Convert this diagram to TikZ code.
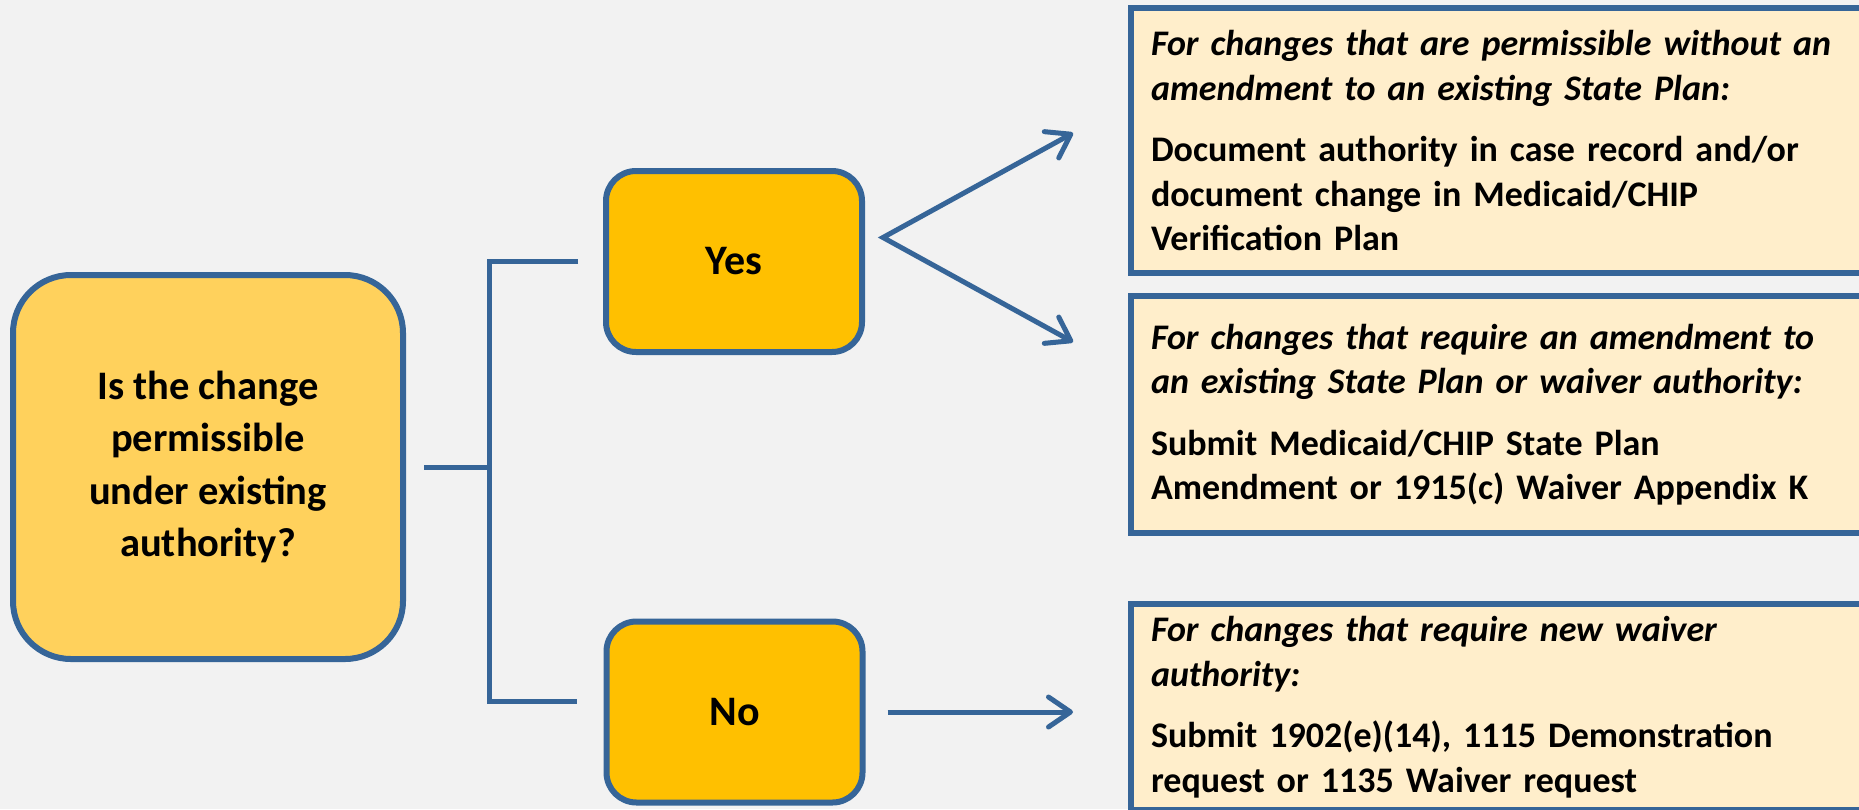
\documentclass[tikz,border=0pt]{standalone}
\usepackage{fontspec}
\setmainfont{Carlito}
\usetikzlibrary{arrows.meta}
\definecolor{bg}{HTML}{F2F2F2}
\definecolor{bl}{HTML}{366598}
\definecolor{mainfill}{HTML}{FFD15C}
\definecolor{ynfill}{HTML}{FFC000}
\definecolor{boxfill}{HTML}{FFEECB}
\begin{document}
\begin{tikzpicture}[x=1pt,y=-1pt,
 decision/.style={draw=bl, line width=6pt, fill=mainfill, rounded corners=58pt,
   minimum width=390pt, minimum height=384pt, align=center, inner sep=0pt,
   font=\fontsize{40.5}{52.5}\selectfont\bfseries},
 answer/.style={draw=bl, line width=6pt, fill=ynfill, rounded corners=30pt,
   minimum width=256pt, minimum height=181pt, inner sep=0pt,
   font=\fontsize{42}{48}\selectfont\bfseries},
 infobox/.style={draw=bl, line width=6pt, fill=boxfill, anchor=west,
   text width=712pt, align=left, inner xsep=20pt, inner ysep=0pt,
   font=\fontsize{36}{44.5}\selectfont\bfseries},
 conn/.style={draw=bl, line width=5pt},
 tipstyle/.style={conn, line join=miter}
]
\fill[bg] (0,0) rectangle (1859,809);
\clip (0,0) rectangle (1859,809);

\node[decision] (q) at (208,467) {Is the change\\permissible\\under existing\\authority?};
\node[answer] (yes) at (734,261.5) {Yes};
\node[answer] (no) at (734.5,712) {No};

\node[infobox, minimum height=265pt] (b1) at (1128,140.5)
 {{\itshape For changes that are permissible without an\\amendment to an existing State Plan:}\\[17pt]
  Document authority in case record and/or\\document change in Medicaid/CHIP\\Verification Plan};
\node[infobox, minimum height=237pt] (b2) at (1128,414.5)
 {{\itshape For changes that require an amendment to\\an existing State Plan or waiver authority:}\\[17pt]
  Submit Medicaid/CHIP State Plan\\Amendment or 1915(c) Waiver Appendix K};
\node[infobox, minimum height=206pt] (b3) at (1128,707)
 {{\itshape For changes that require new waiver\\authority:}\\[17pt]
  Submit 1902(e)(14), 1115 Demonstration\\request or 1135 Waiver request};

\coordinate (apex) at ([xshift=18pt,yshift=24pt]yes.east);
\coordinate (tip1) at ([xshift=-55pt,yshift=7.5pt]b1.west);
\coordinate (tip2) at ([xshift=-55pt,yshift=72.5pt]b2.west);

\draw[conn] ([xshift=18pt]q.east) -- ([xshift=83pt]q.east);
\draw[conn] ([xshift=-25pt]yes.west) -| ([xshift=83pt]q.east) |- ([xshift=-27pt,yshift=11pt]no.west);
\draw[tipstyle, {Straight Barb[length=22pt,width=30pt,round]}-{Straight Barb[length=22pt,width=30pt,round]}]
  (tip1) -- (apex) -- (tip2);
\draw[conn, -{Straight Barb[length=22pt,width=30pt,round]}]
  ([xshift=22pt]no.east) -- ([xshift=-55pt]b3.west |- no.east);
\end{tikzpicture}
\end{document}
